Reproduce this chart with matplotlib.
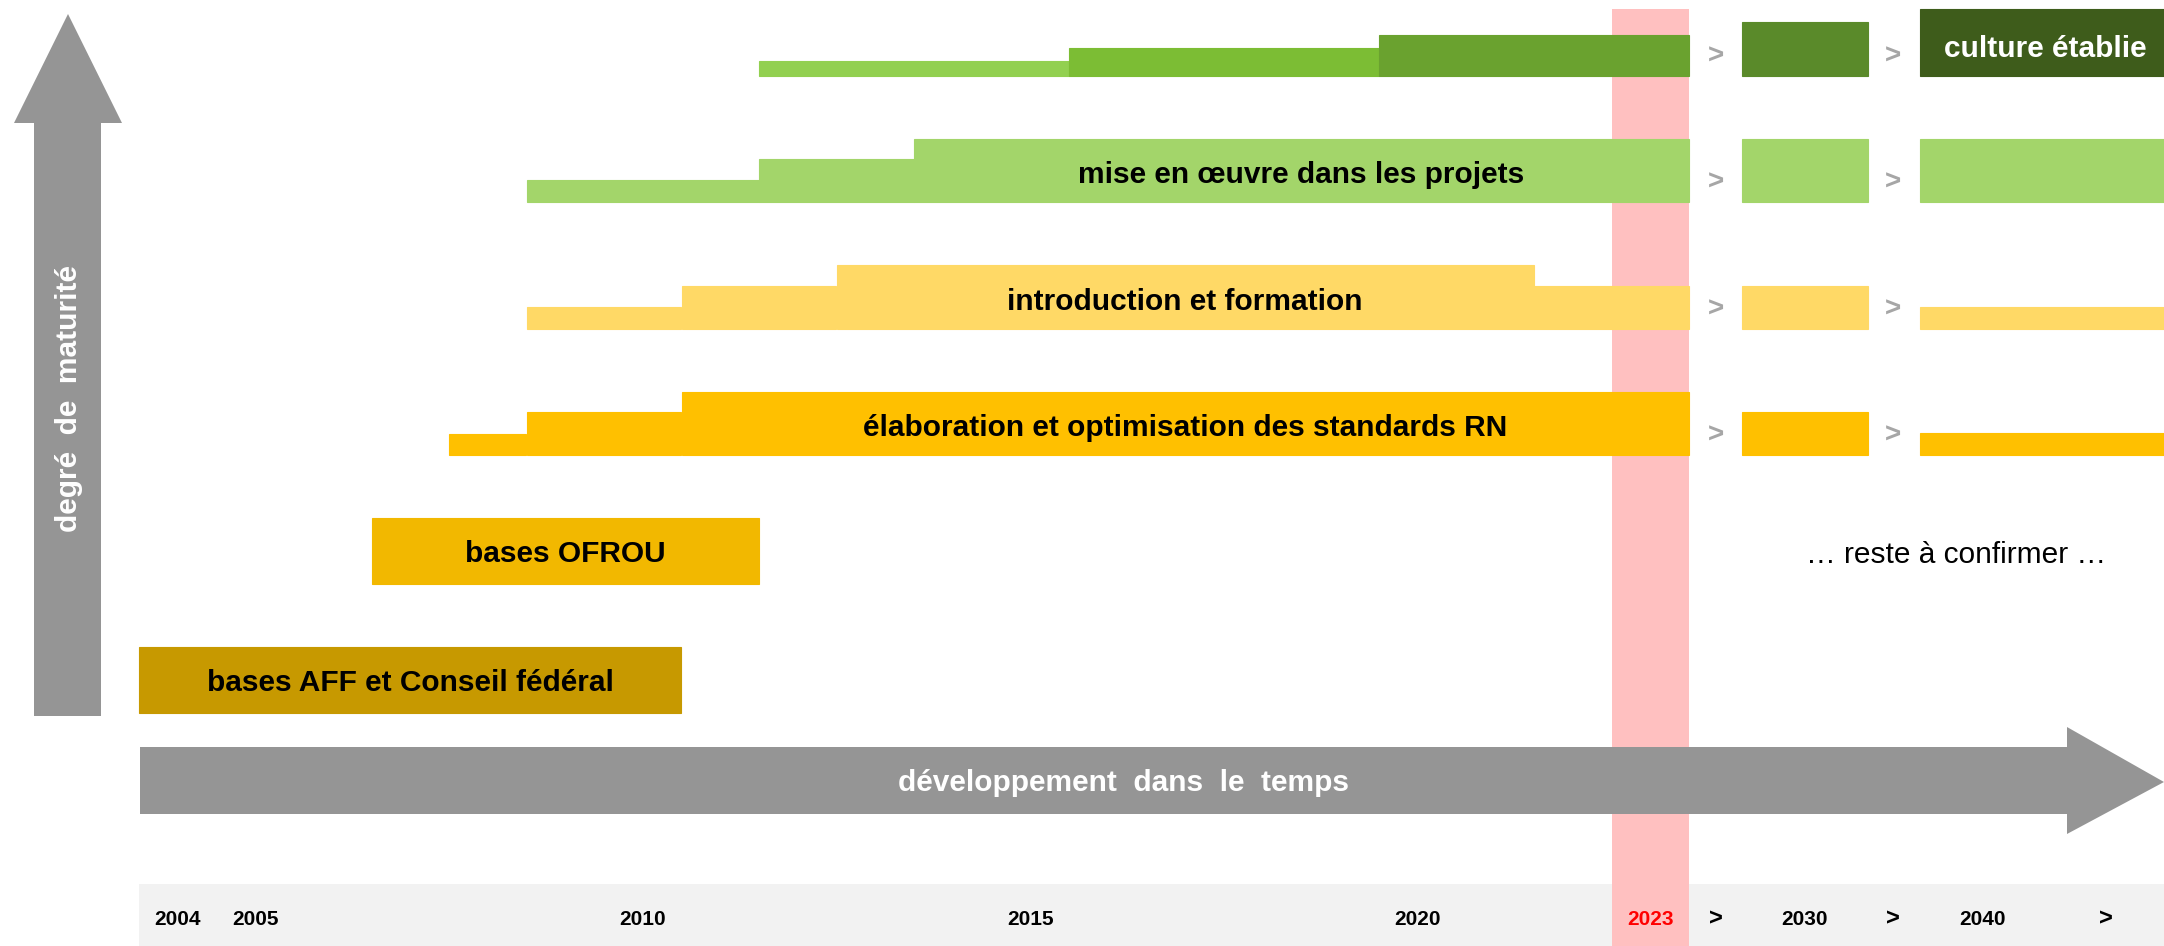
import matplotlib.pyplot as plt
from matplotlib.patches import Polygon

plt.rcParams['font.family'] = ['Liberation Sans', 'DejaVu Sans']

# historical rows: start year of each step, step heights, colours (row ends 2024)
culture_starts = [2012, 2016, 2020]
culture_heights = [15, 28, 41]
culture_colors = ['#92d050', '#7cbd34', '#6aa22f']
culture_future = [54, 67]
culture_future_colors = ['#5a8a2a', '#3e5c1b']

mise_starts = [2009, 2012, 2014]
mise_heights = [22, 43, 63]
mise_future = [63, 63]

intro_starts = [2009, 2011, 2013, 2022]
intro_heights = [22, 43, 64, 43]
intro_future = [43, 22]

elab_starts = [2008, 2009, 2011]
elab_heights = [21, 43, 63]
elab_future = [43, 22]

end_year = 2024

bases_labels = ['bases OFROU', 'bases AFF et Conseil fédéral']
bases_start = [2007, 2004]
bases_end = [2012, 2011]
bases_colors = ['#f2b800', '#c79900']

year_labels = ['2004', '2005', '2010', '2015', '2020', '2023']
future_labels = ['2030', '2040']

# layout (x in years, y in pixels from bottom)
PX_YEAR = 77.5
X_LEFT = 2004 - 139 / PX_YEAR
X_RIGHT = 2004 + (2164 - 139) / PX_YEAR
def px(x):
    return 2004 + (x - 139) / PX_YEAR

future_cols = [(px(1742), px(1868)), (px(1920), X_RIGHT)]
chev_x = [px(1716), px(1893)]

fig = plt.figure(figsize=(21.64, 9.46), dpi=100)
ax = fig.add_axes([0, 0, 1, 1])
ax.set_xlim(X_LEFT, X_RIGHT)
ax.set_ylim(0, 946)
ax.axis('off')

GRAY = '#959595'
CHEV = '#a6a6a6'
FS = 21.5


def box(x0, x1, bottom, h, c, z=3):
    ax.bar(x0, h, width=x1 - x0, bottom=bottom, align='edge', color=c,
           edgecolor=c, linewidth=0.8, zorder=z)


# bottom band and 2023 highlight
ax.bar(2004, 62, width=X_RIGHT - 2004, bottom=0, align='edge', color='#f2f2f2',
       linewidth=0, zorder=1)
ax.bar(2023, 937, width=1, bottom=0, align='edge', color='#ffc0c0', linewidth=0, zorder=2)


def draw_row(base, starts, heights, colors, future, fcolors, label=None, lx=None,
             lcolor='black'):
    ends = starts[1:] + [end_year]
    for s, e, h, c in zip(starts, ends, heights, colors):
        box(s, e, base, h, c)
    for (a, b), h, c in zip(future_cols, future, fcolors):
        box(a, b, base, h, c)
    for cx in chev_x:
        ax.text(cx, base + 19, '>', ha='center', va='center', fontsize=20,
                fontweight='bold', color=CHEV, zorder=4)
    if label:
        ax.text(lx, base + 27, label, ha='center', va='center', fontsize=FS,
                fontweight='bold', color=lcolor, zorder=5)


draw_row(870, culture_starts, culture_heights, culture_colors, culture_future,
         culture_future_colors, 'culture établie', px(2045), 'white')
draw_row(744, mise_starts, mise_heights, ['#a3d56a'] * 3, mise_future, ['#a3d56a'] * 2,
         'mise en œuvre dans les projets', px(1301))
draw_row(617, intro_starts, intro_heights, ['#ffd966'] * 4, intro_future, ['#ffd966'] * 2,
         'introduction et formation', px(1185))
draw_row(491, elab_starts, elab_heights, ['#ffc000'] * 3, elab_future, ['#ffc000'] * 2,
         'élaboration et optimisation des standards RN', px(1185))

# bases boxes
for lab, s, e, c, b in zip(bases_labels, bases_start, bases_end, bases_colors, [362, 233]):
    box(s, e, b, 66, c)
    ax.text((s + e) / 2, b + 30, lab, ha='center', va='center', fontsize=FS,
            fontweight='bold', zorder=5)

ax.text(px(1956), 391, '… reste à confirmer …', ha='center', va='center', fontsize=FS,
        zorder=5)

# time arrow
h_arrow = [(px(140), 132), (px(2067), 132), (px(2067), 112), (X_RIGHT, 164),
           (px(2067), 219), (px(2067), 199), (px(140), 199)]
ax.add_patch(Polygon(h_arrow, closed=True, color=GRAY, zorder=4, linewidth=0))
ax.text(px(1123), 163, 'développement  dans  le  temps', ha='center', va='center',
        fontsize=FS, fontweight='bold', color='white', zorder=5)

# maturity arrow
v_arrow = [(px(34), 230), (px(101), 230), (px(101), 823), (px(122), 823), (px(68), 932),
           (px(14), 823), (px(34), 823)]
ax.add_patch(Polygon(v_arrow, closed=True, color=GRAY, zorder=4, linewidth=0))
ax.text(px(69), 547, 'degré  de  maturité', ha='center', va='center', rotation=90,
        fontsize=FS, fontweight='bold', color='white', zorder=5)

# bottom labels
year_pos = [int(y) + 0.5 for y in year_labels]
for lab, x in zip(year_labels, year_pos):
    ax.text(x, 27, lab, ha='center', va='center', fontsize=15, fontweight='bold',
            color='red' if lab == '2023' else 'black', zorder=5)
for lab, (a, b) in zip(future_labels, future_cols):
    x = (a + b) / 2 if lab == '2030' else px(1983)
    ax.text(x, 27, lab, ha='center', va='center', fontsize=15, fontweight='bold', zorder=5)
for cx in chev_x + [px(2106)]:
    ax.text(cx, 27, '>', ha='center', va='center', fontsize=17, fontweight='bold', zorder=5)

fig.savefig('out.png', dpi=100)
